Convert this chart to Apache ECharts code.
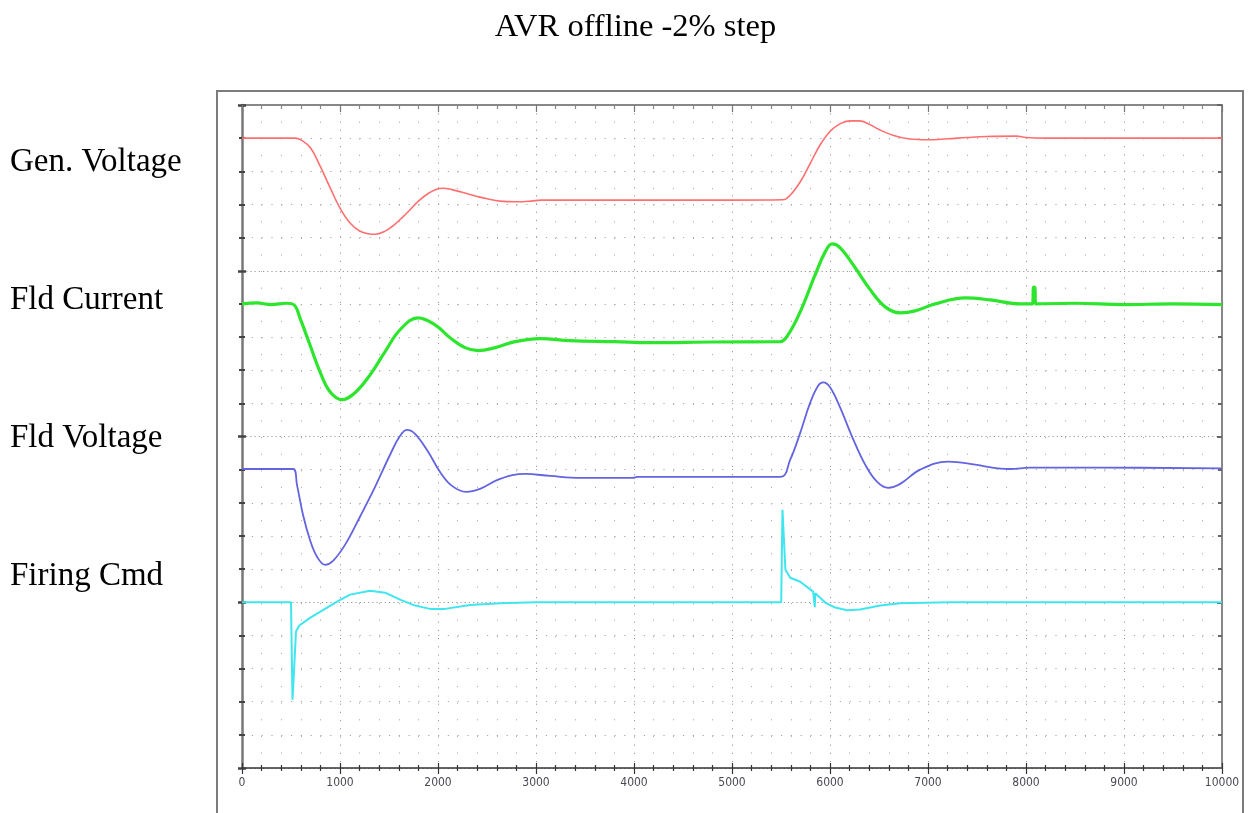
<!DOCTYPE html>
<html>
<head>
<meta charset="utf-8">
<script src="https://cdn.jsdelivr.net/npm/echarts@6/dist/echarts.min.js"></script>
<style>
html,body{margin:0;padding:0;background:#fff;}
#chart{width:1248px;height:813px;}
</style>
</head>
<body>
<div id="chart"></div>
<script>
// ---- data (time in samples, value in screen divisions) ----
const titleText = 'AVR offline -2% step';
const channelNames = ['Gen. Voltage', 'Fld Current', 'Fld Voltage', 'Firing Cmd'];
const xTickLabels = ['0','1000','2000','3000','4000','5000','6000','7000','8000','9000','10000'];

const genVoltage = [
  [0,19.0],[540,19.0],[600,18.95],[700,18.7],[800,18.14],[900,17.5],[1000,16.89],[1100,16.45],
  [1200,16.2],[1300,16.11],[1360,16.1],[1450,16.18],[1550,16.38],[1650,16.65],[1715,16.84],
  [1800,17.1],[1900,17.33],[2000,17.47],[2050,17.49],[2150,17.44],[2300,17.32],[2400,17.24],
  [2500,17.17],[2633,17.1],[2800,17.08],[2950,17.1],[3050,17.13],[4000,17.13],[5000,17.13],
  [5520,17.14],[5600,17.3],[5700,17.7],[5800,18.25],[5900,18.8],[6000,19.2],[6100,19.43],
  [6200,19.52],[6300,19.52],[6400,19.42],[6500,19.26],[6650,19.08],[6800,18.98],[7000,18.95],
  [7200,18.98],[7400,19.02],[7600,19.05],[7900,19.06],[8000,19.02],[8200,19.0],[10000,19.0]
];

const fldCurrent = [
  [0,14.0],[150,14.03],[300,13.98],[450,14.02],[531,13.97],[592,13.57],[694,12.76],[796,11.95],
  [898,11.35],[1021,11.11],[1153,11.32],[1307,11.86],[1460,12.56],[1613,13.22],[1796,13.58],
  [1970,13.37],[2123,12.98],[2276,12.68],[2409,12.59],[2582,12.68],[2787,12.86],[3042,12.95],
  [3348,12.89],[3800,12.86],[4165,12.83],[4800,12.85],[5491,12.86],[5573,13.07],[5696,13.76],
  [5849,14.88],[5951,15.57],[6022,15.81],[6104,15.69],[6257,15.09],[6410,14.43],[6563,13.91],
  [6716,13.73],[6869,13.79],[7073,14.0],[7380,14.18],[7635,14.12],[7941,14.0],[8064,14.0],
  [8078,14.51],[8090,14.5],[8100,14.0],[8500,14.02],[9000,13.98],[9500,14.0],[10000,13.98]
];

const fldVoltage = [
  [0,9.02],[521,9.02],[561,8.54],[623,7.63],[694,6.88],[766,6.37],[847,6.13],[929,6.25],
  [1051,6.73],[1204,7.58],[1358,8.48],[1511,9.45],[1613,10.02],[1684,10.2],[1766,10.08],
  [1899,9.54],[2021,8.93],[2143,8.51],[2286,8.33],[2429,8.42],[2633,8.72],[2889,8.87],
  [3144,8.81],[3450,8.75],[3991,8.75],[4032,8.78],[5491,8.78],[5594,9.3],[5696,10.11],
  [5798,11.02],[5879,11.53],[5930,11.63],[6002,11.48],[6104,10.87],[6226,9.99],[6359,9.15],
  [6481,8.63],[6594,8.45],[6716,8.57],[6920,9.0],[7206,9.24],[7482,9.15],[7737,9.03],
  [7839,9.02],[8043,9.06],[8758,9.06],[10000,9.04]
];

const firingCmd = [
  [0,5.0],[500,5.0],[515,2.06],[526,2.66],[551,4.11],[582,4.29],[694,4.53],[796,4.71],
  [970,5.02],[1103,5.23],[1307,5.35],[1460,5.29],[1613,5.08],[1766,4.9],[1919,4.8],
  [2072,4.8],[2327,4.92],[2633,4.97],[3000,5.0],[5502,5.0],[5515,7.79],[5545,5.98],
  [5594,5.74],[5696,5.62],[5828,5.32],[5840,5.28],[5845,4.85],[5850,5.27],[5951,4.99],
  [6053,4.84],[6175,4.76],[6308,4.78],[6512,4.9],[6716,4.97],[7227,5.0],[10000,5.0]
];

const labelYs = [162, 300, 438, 576];

// ---- chart ----
const chart = echarts.init(document.getElementById('chart'), null, {renderer: 'canvas'});

const narrow = '"Liberation Sans Narrow","DejaVu Sans Condensed","Liberation Sans",sans-serif';
const serif = '"Liberation Serif","Times New Roman",serif';

const hiddenLabel = {show: false};
const option = {
  animation: false,
  backgroundColor: '#ffffff',
  grid: {left: 242, top: 105, width: 980, height: 663, containLabel: false},
  xAxis: [
    {
      type: 'value', min: 0, max: 10000, interval: 1000, position: 'bottom',
      axisLine: {show: true, onZero: false, lineStyle: {color: '#333', width: 1.5}},
      axisTick: {show: true, length: 6, lineStyle: {color: '#333', width: 1.2}},
      minorTick: {show: true, splitNumber: 5, length: 3, lineStyle: {color: '#333', width: 1.2}},
      axisLabel: {
        show: true, margin: 9, fontSize: 12, color: '#4a4a55', fontFamily: narrow,
        formatter: function (v) { return xTickLabels[Math.round(v / 1000)]; }
      },
      splitLine: {show: true, lineStyle: {color: '#9a9a9a', width: 1, type: [1.2, 7]}},
      minorSplitLine: {show: true, lineStyle: {color: '#b0b0b0', width: 1, type: [1.2, 15.4]}}
    },
    {
      type: 'value', min: 0, max: 10000, interval: 1000, position: 'bottom',
      axisLine: {show: false, onZero: false},
      axisTick: {show: true, inside: true, length: 5, lineStyle: {color: '#333', width: 1.2}},
      minorTick: {show: true, splitNumber: 5, length: 3, lineStyle: {color: '#333', width: 1.2}},
      axisLabel: hiddenLabel, splitLine: {show: false}
    },
    {
      type: 'value', min: 0, max: 10000, interval: 1000, position: 'top',
      axisLine: {show: true, onZero: false, lineStyle: {color: '#888', width: 2}},
      axisTick: {show: true, inside: true, length: 7, lineStyle: {color: '#777', width: 1.2}},
      minorTick: {show: true, splitNumber: 5, length: 4, lineStyle: {color: '#888', width: 1.2}},
      axisLabel: hiddenLabel, splitLine: {show: false}
    }
  ],
  yAxis: [
    {
      type: 'value', min: 0, max: 20, interval: 5, position: 'left',
      axisLine: {show: true, onZero: false, lineStyle: {color: '#777', width: 2.5}},
      axisTick: {show: true, length: 4, lineStyle: {color: '#444', width: 2.5}},
      minorTick: {show: true, splitNumber: 5, length: 3, lineStyle: {color: '#444', width: 2}},
      axisLabel: hiddenLabel,
      splitLine: {show: true, lineStyle: {color: '#9a9a9a', width: 1, type: [1.2, 3]}},
      minorSplitLine: {show: true, lineStyle: {color: '#a8a8a8', width: 1, type: [1.2, 8.6]}}
    },
    {
      type: 'value', min: 0, max: 20, interval: 5, position: 'left',
      axisLine: {show: false, onZero: false},
      axisTick: {show: true, inside: true, length: 4, lineStyle: {color: '#444', width: 2.5}},
      minorTick: {show: true, splitNumber: 5, length: 3, lineStyle: {color: '#444', width: 2}},
      axisLabel: hiddenLabel, splitLine: {show: false}
    },
    {
      type: 'value', min: 0, max: 20, interval: 5, position: 'right',
      axisLine: {show: true, onZero: false, lineStyle: {color: '#888', width: 2}},
      axisTick: {show: true, inside: true, length: 5, lineStyle: {color: '#666', width: 2}},
      minorTick: {show: true, splitNumber: 5, length: 4, lineStyle: {color: '#666', width: 2}},
      axisLabel: hiddenLabel, splitLine: {show: false}
    }
  ],
  series: [
    {name: channelNames[0], type: 'line', data: genVoltage, showSymbol: false, smooth: 0.4,
     lineStyle: {color: '#ff6f6f', width: 1.6}, z: 5},
    {name: channelNames[1], type: 'line', data: fldCurrent, showSymbol: false, smooth: 0.4,
     lineStyle: {color: '#2ee52e', width: 3.2}, z: 5},
    {name: channelNames[2], type: 'line', data: fldVoltage, showSymbol: false, smooth: 0.4,
     lineStyle: {color: '#6464e0', width: 1.8}, z: 5},
    {name: channelNames[3], type: 'line', data: firingCmd, showSymbol: false, smooth: false,
     lineStyle: {color: '#3fe6ef', width: 2}, z: 5}
  ],
  graphic: [
    {type: 'rect', z: -10, silent: true,
     shape: {x: 217, y: 91, width: 1026, height: 760},
     style: {fill: 'none', stroke: '#7c7c7c', lineWidth: 2}},
    {type: 'text', x: 635.5, y: 27, silent: true,
     style: {text: titleText, font: '32.5px ' + serif, fill: '#000', align: 'center', verticalAlign: 'middle'}}
  ].concat(channelNames.map(function (n, i) {
    return {type: 'text', x: 10, y: labelYs[i], silent: true,
      style: {text: n, font: '33px ' + serif, fill: '#000', align: 'left', verticalAlign: 'middle'}};
  }))
};

chart.setOption(option);
</script>
</body>
</html>
